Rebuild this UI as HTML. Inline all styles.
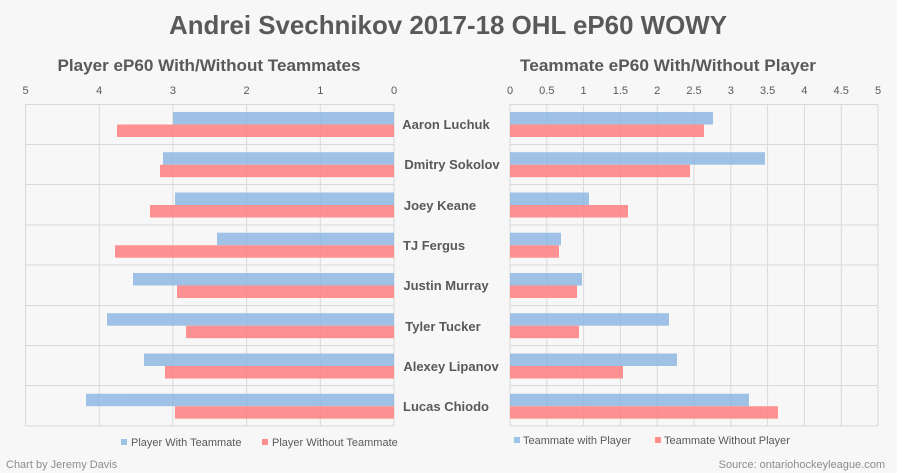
<!DOCTYPE html>
<html><head><meta charset="utf-8"><style>
html,body{margin:0;padding:0;background:#f7f7f7;}
svg{display:block;font-family:"Liberation Sans",sans-serif;}
</style></head><body>
<svg width="897" height="473" viewBox="0 0 897 473">
<rect width="897" height="473" fill="#f7f7f7"/>
<text x="448" y="34" text-anchor="middle" font-size="26" font-weight="bold" fill="#595959" textLength="558" lengthAdjust="spacingAndGlyphs">Andrei Svechnikov 2017-18 OHL eP60 WOWY</text>
<text x="209" y="71" text-anchor="middle" font-size="17" font-weight="bold" fill="#595959" textLength="303" lengthAdjust="spacingAndGlyphs">Player eP60 With/Without Teammates</text>
<text x="668" y="71" text-anchor="middle" font-size="17" font-weight="bold" fill="#595959" textLength="296" lengthAdjust="spacingAndGlyphs">Teammate eP60 With/Without Player</text>
<g font-size="11" fill="#595959" text-anchor="middle">
<text x="25.5" y="94">5</text><text x="99.2" y="94">4</text><text x="172.9" y="94">3</text><text x="246.6" y="94">2</text><text x="320.3" y="94">1</text><text x="394" y="94">0</text>
<text x="510" y="94">0</text><text x="546.8" y="94">0.5</text><text x="583.6" y="94">1</text><text x="620.4" y="94">1.5</text><text x="657.2" y="94">2</text><text x="694" y="94">2.5</text><text x="730.8" y="94">3</text><text x="767.6" y="94">3.5</text><text x="804.4" y="94">4</text><text x="841.2" y="94">4.5</text><text x="878" y="94">5</text>
</g>
<g stroke="#d9d9d9" stroke-width="1" fill="none">
<path d="M25.5 104V426M99.2 104V426M172.9 104V426M246.6 104V426M320.3 104V426M394 104V426"/>
<path d="M510 104V426M546.8 104V426M583.6 104V426M620.4 104V426M657.2 104V426M694 104V426M730.8 104V426M767.6 104V426M804.4 104V426M841.2 104V426M878 104V426"/>
<path d="M25.5 104.5H394M25.5 144.5H394M25.5 184.5H394M25.5 225H394M25.5 265H394M25.5 305.5H394M25.5 345.5H394M25.5 385.5H394M25.5 426H394"/>
<path d="M510 104.5H878M510 144.5H878M510 184.5H878M510 225H878M510 265H878M510 305.5H878M510 345.5H878M510 385.5H878M510 426H878"/>
</g>
<g opacity="0.85">
<g fill="#8fb8e3">
<rect x="173" y="112" width="221" height="12.5"/>
<rect x="163" y="152.2" width="231" height="12.5"/>
<rect x="175" y="192.5" width="219" height="12.5"/>
<rect x="217" y="232.7" width="177" height="12.5"/>
<rect x="133" y="273" width="261" height="12.5"/>
<rect x="107" y="313.2" width="287" height="12.5"/>
<rect x="144" y="353.5" width="250" height="12.5"/>
<rect x="86" y="393.7" width="308" height="12.5"/>
<rect x="510" y="112" width="203" height="12.5"/>
<rect x="510" y="152.2" width="255" height="12.5"/>
<rect x="510" y="192.5" width="79" height="12.5"/>
<rect x="510" y="232.7" width="51" height="12.5"/>
<rect x="510" y="273" width="72" height="12.5"/>
<rect x="510" y="313.2" width="159" height="12.5"/>
<rect x="510" y="353.5" width="167" height="12.5"/>
<rect x="510" y="393.7" width="239" height="12.5"/>
</g>
<g fill="#ff8080">
<rect x="117" y="124.5" width="277" height="12.5"/>
<rect x="160" y="164.7" width="234" height="12.5"/>
<rect x="150" y="205" width="244" height="12.5"/>
<rect x="115" y="245.2" width="279" height="12.5"/>
<rect x="177" y="285.5" width="217" height="12.5"/>
<rect x="186" y="325.7" width="208" height="12.5"/>
<rect x="165" y="366" width="229" height="12.5"/>
<rect x="175" y="406.2" width="219" height="12.5"/>
<rect x="510" y="124.5" width="194" height="12.5"/>
<rect x="510" y="164.7" width="180" height="12.5"/>
<rect x="510" y="205" width="118" height="12.5"/>
<rect x="510" y="245.2" width="49" height="12.5"/>
<rect x="510" y="285.5" width="67" height="12.5"/>
<rect x="510" y="325.7" width="69" height="12.5"/>
<rect x="510" y="366" width="113" height="12.5"/>
<rect x="510" y="406.2" width="268" height="12.5"/>
</g>
</g>
<g font-size="13" font-weight="bold" fill="#595959" text-anchor="middle">
<text x="446" y="129">Aaron Luchuk</text>
<text x="452" y="169">Dmitry Sokolov</text>
<text x="440" y="210">Joey Keane</text>
<text x="434" y="250">TJ Fergus</text>
<text x="446" y="290">Justin Murray</text>
<text x="443" y="331">Tyler Tucker</text>
<text x="451" y="371">Alexey Lipanov</text>
<text x="446" y="411">Lucas Chiodo</text>
</g>
<g font-size="11" fill="#595959">
<rect x="121" y="439" width="6" height="6" fill="#9dc3e6"/><text x="131" y="446">Player With Teammate</text>
<rect x="262" y="439" width="6" height="6" fill="#ff8f8f"/><text x="272" y="446">Player Without Teammate</text>
<rect x="514" y="437" width="6" height="6" fill="#9dc3e6"/><text x="523" y="444">Teammate with Player</text>
<rect x="655" y="437" width="6" height="6" fill="#ff8f8f"/><text x="664" y="444">Teammate Without Player</text>
</g>
<text x="6" y="468" font-size="11" fill="#8c8c8c">Chart by Jeremy Davis</text>
<text x="885" y="468" font-size="11" fill="#8c8c8c" text-anchor="end">Source: ontariohockeyleague.com</text>
</svg>
</body></html>
